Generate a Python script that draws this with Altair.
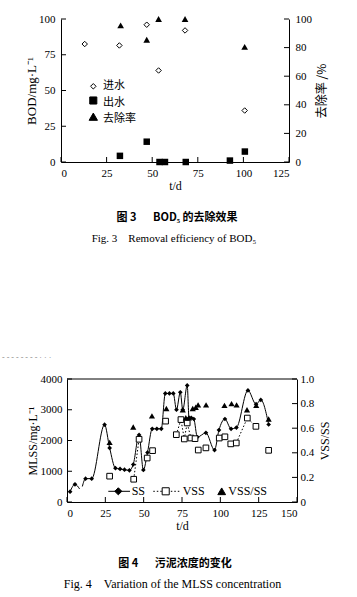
import altair as alt
import pandas as pd

# ---------------- Fig. 3 data ----------------
inf_t = [13, 32, 47, 53.5, 68, 100.7]
inf_v = [82.5, 81.5, 96, 64, 92, 36]
eff_t = [32.3, 47, 54, 57, 68.4, 92.6, 100.8]
eff_v = [4.3, 14.2, 0, 0, 0, 1, 7.3]
rem_t = [32.7, 47, 53.5, 68, 100.7]
rem_v = [95.5, 85.5, 100, 100, 80.5]
x1_ticks = [0, 25, 50, 75, 100, 125]
y1_ticks = [0, 25, 50, 75, 100]
r1_ticks = [0, 20, 40, 60, 80, 100]
legend1_labels = ["进水", "出水", "去除率"]

# ---------------- Fig. 4 data ----------------
ss_t = [2, 5.2, 8.2, 10, 12.1, 16.1, 24.5, 27.8, 31.6, 34.6, 37.5, 40.7, 43.2,
        47, 49.8, 52.5, 55.6, 58.6, 61.5, 64.1, 66.8, 69.3, 71.4, 73.9, 75.5,
        78.4, 79.6, 81, 82.7, 85, 90.6, 96.2, 99.1, 103, 107, 110.5, 118, 123.3,
        126.4, 131.5]
ss_v = [335, 575, 425, 505, 760, 760, 2515, 1760, 1100, 1075, 1050, 1030, 1220,
        2180, 1040, 1610, 2380, 2380, 2380, 3530, 3530, 3530, 3000, 3570, 3000,
        3790, 2730, 2740, 2700, 2110, 2250, 1690, 2340, 2700, 2380, 2420, 3630, 3180,
        3320, 2520]
ss_seg = ["a"] * 3 + ["b"] * 37
ss_mark = [1, 1, 0, 0] + [1] * 36

vss_t = [27.8, 43.5, 47, 52.3, 55.8, 64.3, 71.3, 74.3, 76.5, 78.4, 80.8, 83.5,
         85.6, 90.6, 99.3, 103, 106.8, 110.4, 117.6, 123.2, 131.5]
vss_v = [840, 740, 2040, 1430, 1670, 2630, 2190, 2680, 2050, 2570, 2080, 2060,
         1690, 1760, 2080, 2120, 1890, 1920, 2730, 2460, 1680]
vss_seg = ["", "a", "a", "", "", "", "b", "b", "b", "b", "b", "b",
           "", "", "", "", "", "c", "c", "c", ""]

ratio_t = [27.8, 43.2, 55.4, 64.8, 75.5, 77.5, 79.5, 82, 84, 85.5, 90.7, 102.7,
           107.3, 110.6, 117.4, 123.4, 131.5]
ratio_v = [0.485, 0.61, 0.70, 0.76, 0.75, 0.685, 0.685, 0.76, 0.77, 0.79, 0.79,
           0.785, 0.80, 0.79, 0.75, 0.785, 0.675]

x2_ticks = [0, 25, 50, 75, 100, 125, 150]
y2_ticks = [0, 1000, 2000, 3000, 4000]
r2_ticks = [0, 0.2, 0.4, 0.6, 0.8, 1.0]
legend2_labels = ["SS", "VSS", "VSS/SS"]

cap3_cn = "图 3\u2003\u2002BOD₅ 的去除效果"
cap3_en = "Fig. 3\u2003Removal efficiency of BOD₅"
cap4_cn = "图 4\u2003\u2002污泥浓度的变化"
cap4_en = "Fig. 4\u2003Variation of the MLSS concentration"
scan_row = "- - - - - - - - · · ·"

SERIF = "Liberation Serif"
CJK = "Noto Sans CJK SC"
W1, H1 = 228, 143
W2, H2 = 236, 123
X0 = 6  # left edge of fig.4 plot inside its group
TK = 5


def one(**kw):
    return pd.DataFrame({k: [v] for k, v in kw.items()})


def txt(s, x, y, size=12, font=SERIF, align="left", weight="normal", color="black"):
    return alt.Chart(one(s=s)).mark_text(
        align=align, baseline="middle", font=font, fontSize=size,
        fontWeight=weight, color=color
    ).encode(text="s:N", x=alt.value(x), y=alt.value(y))


def sym(shape, x, y, size, fill="black"):
    return alt.Chart(one(s=shape)).mark_point(
        shape=shape, filled=True, fill=fill, stroke="black", strokeWidth=1,
        size=size, opacity=1
    ).encode(x=alt.value(x), y=alt.value(y))


def hline(x, x2, y, dash=None):
    kw = dict(color="black", strokeWidth=1)
    if dash:
        kw["strokeDash"] = dash
    return alt.Chart(one(s=0)).mark_rule(**kw).encode(
        x=alt.value(x), x2=alt.value(x2), y=alt.value(y))


# ---------------- Fig. 3 ----------------
x1 = alt.X("t:Q", scale=alt.Scale(domain=[0, 125], nice=False, zero=False),
           axis=alt.Axis(values=x1_ticks, title="t/d", labelPadding=5,
                         titlePadding=2, labelFontSize=11, titleFontSize=12))
y1 = alt.Y("v:Q", scale=alt.Scale(domain=[0, 100], nice=False),
           axis=alt.Axis(values=y1_ticks, title="BOD/mg·L⁻¹", labelPadding=6,
                         titlePadding=0, labelFontSize=11, titleFontSize=13))
r1 = alt.Y("v:Q", scale=alt.Scale(domain=[0, 100], nice=False),
           axis=alt.Axis(orient="right", values=r1_ticks, title="去除率 /%",
                         titleFont=CJK, titleAngle=270, titleBaseline="top",
                         labelPadding=6, titlePadding=5, labelFontSize=11,
                         titleFontSize=12))

bt1 = alt.Chart(pd.DataFrame({"t": x1_ticks})).mark_rule(color="black").encode(
    x=x1, y=alt.value(H1), y2=alt.value(H1 - TK))
lt1 = alt.Chart(pd.DataFrame({"v": y1_ticks})).mark_rule(color="black").encode(
    y=y1, x=alt.value(0), x2=alt.value(TK))
rt1 = alt.Chart(pd.DataFrame({"v": r1_ticks})).mark_rule(color="black").encode(
    y=r1, x=alt.value(W1 - TK), x2=alt.value(W1))

inf = alt.Chart(pd.DataFrame({"t": inf_t, "v": inf_v})).mark_point(
    shape="diamond", filled=True, fill="white", stroke="black", strokeWidth=1,
    size=30, opacity=1).encode(x=x1, y=y1)
eff = alt.Chart(pd.DataFrame({"t": eff_t, "v": eff_v})).mark_point(
    shape="square", filled=True, color="black", size=42, opacity=1).encode(x=x1, y=y1)
rem = alt.Chart(pd.DataFrame({"t": rem_t, "v": rem_v})).mark_point(
    shape="triangle-up", filled=True, color="black", size=45, opacity=1).encode(x=x1, y=r1)

leg1 = [
    sym("diamond", 32.3, 67.3, 30, fill="white"),
    sym("square", 32.3, 81.5, 50),
    sym("triangle-up", 32.3, 97.7, 70),
    txt(legend1_labels[0], 42, 67.3, 11, CJK),
    txt(legend1_labels[1], 42, 83.5, 11, CJK),
    txt(legend1_labels[2], 42, 99.5, 11, CJK),
    txt(cap3_cn, 116, 198.7, 11, CJK, "center", "bold"),
    txt(cap3_en, 113, 220.3, 11, SERIF, "center"),
]

left1 = alt.layer(lt1, bt1, inf, eff, *leg1)
right1 = alt.layer(rt1, rem)
c1 = alt.layer(left1, right1).resolve_scale(y="independent").properties(width=W1, height=H1)

# ---------------- Fig. 4 ----------------
x2 = alt.X("t:Q", scale=alt.Scale(domain=[0, 150], range=[X0, W2], nice=False, zero=False),
           axis=alt.Axis(values=x2_ticks, title="t/d", labelPadding=5,
                         titlePadding=2, labelFontSize=11, titleFontSize=12))
y2 = alt.Y("v:Q", scale=alt.Scale(domain=[0, 4000], nice=False),
           axis=alt.Axis(values=y2_ticks, title="MLSS/mg·L⁻¹", offset=-X0,
                         format="d", labelPadding=5, titlePadding=1,
                         labelFontSize=11, titleFontSize=12))
r2 = alt.Y("v:Q", scale=alt.Scale(domain=[0, 1], nice=False),
           axis=alt.Axis(orient="right", values=r2_ticks, title="VSS/SS",
                         titleAngle=270, titleBaseline="top", labelPadding=3,
                         titlePadding=6, labelFontSize=11, titleFontSize=12,
                         labelExpr="datum.value == 0 ? '0' : format(datum.value, '.1f')"))

bt2 = alt.Chart(pd.DataFrame({"t": x2_ticks})).mark_rule(color="black").encode(
    x=x2, y=alt.value(H2), y2=alt.value(H2 - TK))
lt2 = alt.Chart(pd.DataFrame({"v": y2_ticks})).mark_rule(color="black").encode(
    y=y2, x=alt.value(X0), x2=alt.value(X0 + TK))
rt2 = alt.Chart(pd.DataFrame({"v": r2_ticks})).mark_rule(color="black").encode(
    y=r2, x=alt.value(W2 - TK), x2=alt.value(W2))
top2 = hline(X0, W2, 0)

ss_df = pd.DataFrame({"t": ss_t, "v": ss_v, "seg": ss_seg, "m": ss_mark})
ss_line = alt.Chart(ss_df).mark_line(
    color="black", strokeWidth=1, interpolate="monotone").encode(
    x=x2, y=y2, detail="seg:N")
ss_pts = alt.Chart(ss_df[ss_df["m"] == 1]).mark_point(
    shape="diamond", filled=True, color="black", size=22, opacity=1).encode(x=x2, y=y2)

vss_df = pd.DataFrame({"t": vss_t, "v": vss_v, "seg": vss_seg})
vss_line = alt.Chart(vss_df[vss_df["seg"] != ""]).mark_line(
    color="black", strokeWidth=1, strokeDash=[1.5, 2]).encode(
    x=x2, y=y2, detail="seg:N")
vss_pts = alt.Chart(vss_df).mark_point(
    shape="square", filled=True, fill="white", stroke="black", strokeWidth=1,
    size=32, opacity=1).encode(x=x2, y=y2)

ratio_pts = alt.Chart(pd.DataFrame({"t": ratio_t, "v": ratio_v})).mark_point(
    shape="triangle-up", filled=True, color="black", size=38, opacity=1).encode(x=x2, y=r2)

LY = 112.3
leg2 = [
    hline(47.3, 69, LY),
    sym("diamond", 57.3, LY, 50),
    txt(legend2_labels[0], 70.7, LY, 12),
    hline(92.3, 119, LY, dash=[1.5, 2]),
    sym("square", 104.7, LY, 50, fill="white"),
    txt(legend2_labels[1], 121.7, LY, 12),
    sym("triangle-up", 160.7, LY, 60),
    txt(legend2_labels[2], 167.3, LY, 12),
    txt(cap4_cn, 114, 185, 11, CJK, "center", "bold"),
    txt(cap4_en, 111.5, 205, 12, SERIF, "center"),
    txt(scan_row, -59, -21, 8, SERIF, "left", "normal", "#888888"),
]

left2 = alt.layer(lt2, bt2, top2, ss_line, vss_line, ss_pts, vss_pts, *leg2)
right2 = alt.layer(rt2, ratio_pts)
c2 = alt.layer(left2, right2).resolve_scale(y="independent").properties(width=W2, height=H2)

chart = alt.vconcat(c1, c2, spacing=217, bounds="flush").properties(
    padding={"left": 61, "top": 19, "right": 296, "bottom": 578},
    autosize=alt.AutoSizeParams(type="none"),
).configure_view(stroke=None).configure_axis(
    domainColor="black", domainWidth=1, labelColor="black", titleColor="black",
    labelFont=SERIF, titleFont=SERIF, grid=False, ticks=False, tickSize=0,
    titleFontWeight="normal", labelFontWeight="normal",
)

chart.save("out.html", embed_options={"renderer": "svg", "actions": False})
